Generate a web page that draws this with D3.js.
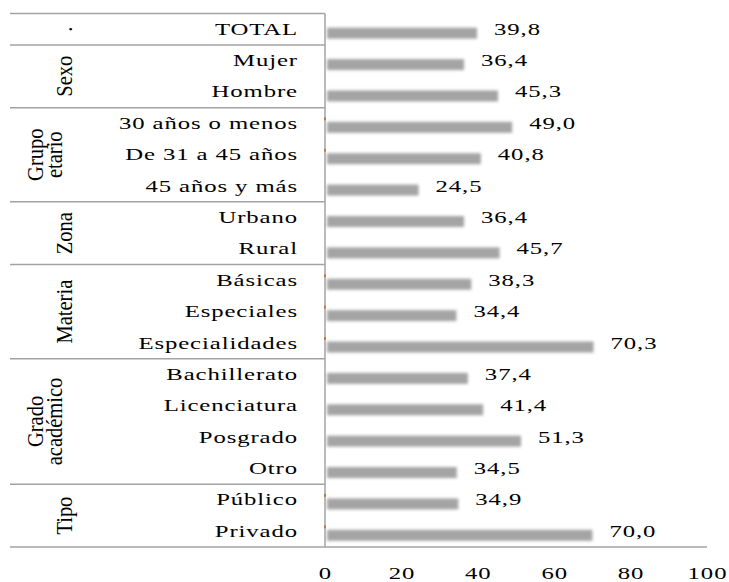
<!DOCTYPE html>
<html>
<head>
<meta charset="utf-8">
<script src="https://cdn.jsdelivr.net/npm/d3@7"></script>
<style>
  html, body { margin: 0; padding: 0; background: #fff; }
  svg { display: block; }
  text { font-family: "Liberation Serif", "Times New Roman", serif; fill: #000; }
</style>
</head>
<body>
<svg id="chart" width="729" height="582"></svg>
<script>
// ---- data ----
const categories = ["TOTAL","Mujer","Hombre","30 años o menos","De 31 a 45 años","45 años y más",
  "Urbano","Rural","Básicas","Especiales","Especialidades","Bachillerato","Licenciatura",
  "Posgrado","Otro","Público","Privado"];
const values = [39.8,36.4,45.3,49.0,40.8,24.5,36.4,45.7,38.3,34.4,70.3,37.4,41.4,51.3,34.5,34.9,70.0];
const groupNames = [["."],["Sexo"],["Grupo","etario"],["Zona"],["Materia"],["Grado","académico"],["Tipo"]];
const groupSizes = [1,2,3,2,3,4,2];
const xTicks = [0,20,40,60,80,100];
const markedRows = ["30 años o menos","De 31 a 45 años","Básicas","Especiales","Especialidades","Público","Privado"];

// ---- layout ----
const svg = d3.select("#chart");
const SX = 1.5;              // horizontal stretch of the text
const LS = 0.6;              // letter spacing
const FS = 16.5;
const lineColor = "#a3a3a3";

const x = d3.scaleLinear().domain([0,100]).range([325,707]);
const y = d3.scaleBand().domain(categories).range([13.5,547]).paddingInner(0).paddingOuter(0);
const fmt = v => d3.format(".1f")(v).replace(".", ",");

// blur filter for bars
const defs = svg.append("defs");
defs.append("filter").attr("id","soft").attr("x","-5%").attr("y","-60%").attr("width","110%").attr("height","220%")
  .append("feGaussianBlur").attr("stdDeviation",1.5);

// bars
svg.append("g").selectAll("rect").data(categories).join("rect")
  .attr("x", x(0) + 2)
  .attr("y", (d) => y(d) + y.bandwidth()/2 - 1.5)
  .attr("width", (d,i) => x(values[i]) - x(0) - 2)
  .attr("height", 11)
  .attr("fill", "#a4a4a4")
  .attr("filter", "url(#soft)");

// value labels
svg.append("g").selectAll("text").data(categories).join("text")
  .attr("transform", (d,i) => `translate(${x(values[i]) + 17},${y(d) + y.bandwidth()/2 + 5.5}) scale(${SX},1)`)
  .attr("font-size", FS)
  .attr("letter-spacing", LS)
  .text((d,i) => fmt(values[i]));

// group boundary lines
let acc = 0;
const boundaries = [0];
groupSizes.forEach(n => { acc += n; boundaries.push(acc); });
svg.append("g").selectAll("line").data(boundaries.slice(0,-1)).join("line")
  .attr("x1", 10).attr("x2", x(0))
  .attr("y1", i => y(categories[i])).attr("y2", i => y(categories[i]))
  .attr("stroke", lineColor).attr("stroke-width", 1.5);
// bottom line
svg.append("line").attr("x1",10).attr("x2",x(100)).attr("y1",y.range()[1]).attr("y2",y.range()[1])
  .attr("stroke", lineColor).attr("stroke-width", 1.5);
// vertical axis line
svg.append("line").attr("x1",x(0)).attr("x2",x(0)).attr("y1",y.range()[0]).attr("y2",y.range()[1])
  .attr("stroke", lineColor).attr("stroke-width", 1.5);

// small orange ticks
svg.append("g").selectAll("rect").data(markedRows).join("rect")
  .attr("x", x(0) - 1).attr("y", d => y(d) + y.bandwidth()/2 - 6)
  .attr("width", 2).attr("height", 3).attr("fill", "#c9783a");

// category axis
const yAxis = svg.append("g").attr("transform","translate(298,0)")
  .call(d3.axisLeft(y).tickSize(0).tickPadding(0));
yAxis.select(".domain").remove();
yAxis.selectAll("text")
  .attr("x", 0).attr("dy", null).attr("y", 5.5)
  .attr("font-size", FS)
  .attr("font-family", "Liberation Serif")
  .attr("letter-spacing", LS)
  .attr("fill", "#000")
  .attr("text-anchor", "end")
  .attr("transform", `scale(${SX},1)`);

// group labels (rotated)
const groupCenters = groupSizes.map((n,i) => {
  const a = y(categories[boundaries[i]]);
  const b = boundaries[i+1] < categories.length ? y(categories[boundaries[i+1]]) : y.range()[1];
  return (a+b)/2;
});
const gl = svg.append("g");
groupNames.forEach((lines, i) => {
  const baselines = lines.length === 1 ? [72] : [43, 62];
  lines.forEach((ln, j) => {
    gl.append("text")
      .attr("transform", `translate(${baselines[j]},${groupCenters[i]}) rotate(-90) scale(1,1.1)`)
      .attr("text-anchor","middle")
      .attr("font-size", 20.5)
      .text(ln);
  });
});

// value axis
const xAxis = svg.append("g").attr("transform","translate(0,579)")
  .call(d3.axisBottom(x).tickValues(xTicks).tickSize(0).tickPadding(0).tickFormat(d3.format("d")));
xAxis.select(".domain").remove();
xAxis.selectAll("text")
  .attr("y", 0).attr("dy", null)
  .attr("font-size", FS)
  .attr("font-family", "Liberation Serif")
  .attr("letter-spacing", LS)
  .attr("fill", "#000")
  .attr("transform", `scale(${SX},1)`);
</script>
</body>
</html>
